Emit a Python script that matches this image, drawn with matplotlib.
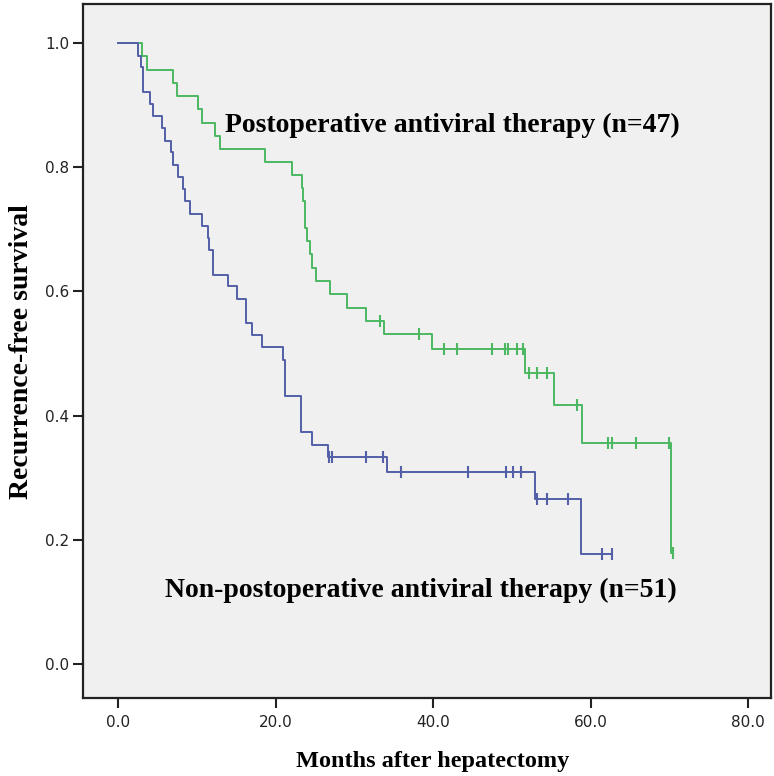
import numpy as np
import matplotlib.pyplot as plt

# Kaplan-Meier step data (months, survival after the step)
anti_times = [3.0, 3.6, 6.9, 7.4, 10.1, 10.6, 12.3, 12.9, 18.6, 22.0, 23.3, 23.5,
              23.7, 24.0, 24.3, 24.6, 25.1, 26.9, 29.0, 31.4, 33.8, 39.8, 51.7,
              55.3, 58.9, 70.2]
anti_surv = [0.979, 0.957, 0.936, 0.915, 0.894, 0.872, 0.851, 0.830, 0.809, 0.787,
             0.766, 0.745, 0.702, 0.681, 0.660, 0.638, 0.617, 0.596, 0.574, 0.553,
             0.531, 0.508, 0.469, 0.417, 0.356, 0.178]
anti_censor = [33.2, 38.2, 41.3, 43.0, 47.5, 49.1, 49.5, 50.6, 51.4, 52.2, 53.2,
               54.5, 58.2, 62.2, 62.7, 65.8, 69.9, 70.4]

non_times = [2.5, 2.9, 3.1, 4.0, 4.4, 5.5, 5.9, 6.7, 6.9, 7.6, 8.2, 8.4, 9.1,
             10.6, 11.4, 11.5, 12.0, 13.9, 15.0, 16.2, 17.0, 18.2, 20.9, 21.1,
             23.2, 24.6, 26.6, 34.1, 52.9, 58.7]
non_surv = [0.980, 0.961, 0.922, 0.902, 0.882, 0.863, 0.843, 0.824, 0.804, 0.784,
            0.765, 0.745, 0.725, 0.706, 0.686, 0.667, 0.627, 0.608, 0.588, 0.549,
            0.529, 0.510, 0.490, 0.431, 0.373, 0.353, 0.333, 0.309, 0.266, 0.177]
non_censor = [26.8, 27.1, 31.4, 33.6, 35.9, 44.4, 49.2, 50.1, 51.1, 53.2, 54.5,
              57.1, 61.4, 62.7]

xticks = [0, 20, 40, 60, 80]
yticks = [0.0, 0.2, 0.4, 0.6, 0.8, 1.0]

GREEN = '#4cb862'
BLUE = '#5360a8'


def step_xy(times, surv, censor):
    end = max(max(times), max(censor))
    x = np.concatenate([[0.0], times, [end]])
    y = np.concatenate([[1.0], surv, [surv[-1]]])
    return x, y


def level_at(times, surv, t):
    i = np.searchsorted(times, t, side='right')
    return 1.0 if i == 0 else surv[i - 1]


fig = plt.figure(figsize=(7.74, 7.76), dpi=100)
ax = fig.add_axes([83 / 774, 1 - 698 / 776, 688 / 774, 694 / 776])
ax.set_facecolor('#f0f0f0')

for times, surv, censor, col in [(anti_times, anti_surv, anti_censor, GREEN),
                                 (non_times, non_surv, non_censor, BLUE)]:
    x, y = step_xy(times, surv, censor)
    ax.step(x, y, where='post', color=col, lw=1.4)
    cy = [level_at(times, surv, t) for t in censor]
    ax.plot(censor, cy, ls='none', marker='|', ms=9, mew=1.5, color=col)

ax.set_xlim(-4.5, 82.9)
ax.set_ylim(-0.055, 1.063)
ax.set_xticks(xticks)
ax.set_xticklabels(['%.1f' % v for v in xticks])
ax.set_yticks(yticks)
ax.set_yticklabels(['%.1f' % v for v in yticks])
ax.tick_params(direction='out', length=7, width=1.5, labelsize=11,
               colors='#222222', pad=3)
ax.tick_params(axis='x', pad=5)
for s in ax.spines.values():
    s.set_linewidth(1.6)
    s.set_color('#222222')

serif = ['Liberation Serif', 'DejaVu Serif']
ax.text(13.5, 0.868, 'Postoperative antiviral therapy (n=47)', family=serif,
        fontweight='bold', fontsize=20, va='center', ha='left')
ax.text(5.9, 0.119, 'Non-postoperative antiviral therapy (n=51)', family=serif,
        fontweight='bold', fontsize=20, va='center', ha='left')

fig.text(433 / 774, 1 - 751 / 776, 'Months after hepatectomy', family=serif,
         fontweight='bold', fontsize=17.5, ha='center', va='top')
fig.text(22 / 774, 1 - 352 / 776, 'Recurrence-free survival', family=serif,
         fontweight='bold', fontsize=20, ha='center', va='center', rotation=90)

fig.savefig('out.png', dpi=100)
